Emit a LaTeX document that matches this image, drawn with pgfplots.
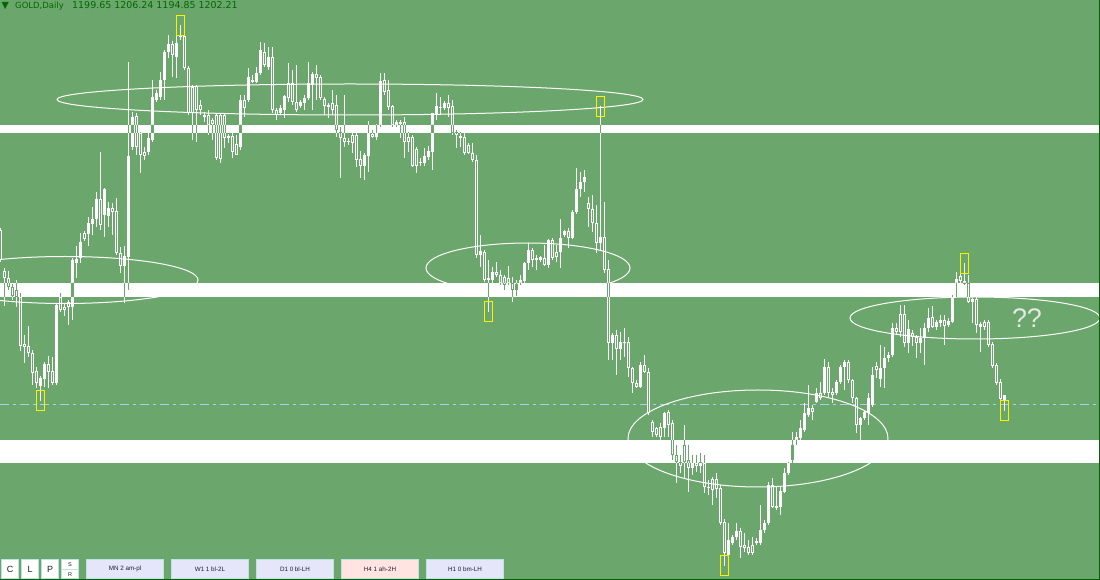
\documentclass[border=0pt]{standalone}
\usepackage{pgfplots}
\pgfplotsset{compat=1.18}
\usepackage{pgfplotstable}
\usepackage{fontspec}
\setmainfont{DejaVu Sans}
\newfontfamily\lib{Liberation Sans}
\definecolor{bg}{RGB}{107,166,108}
\definecolor{txtg}{RGB}{0,105,0}
\definecolor{bid}{RGB}{168,208,232}
\definecolor{lav}{RGB}{230,230,250}
\definecolor{rose}{RGB}{255,228,225}
\definecolor{bord}{RGB}{190,225,228}
\definecolor{dkg}{RGB}{0,100,0}
\definecolor{qq}{RGB}{228,232,228}
\definecolor{btxt}{RGB}{30,30,50}

% pixel rows (0 = top of chart); O H L C
\pgfplotstableread{
x O H L C
0 230 228 262 260
4 271 268 306 278
8 278 271 290 287
12 287 284 300 296
16 290 280 307 297
20 297 293 351 346
24 344 335 363 347
28 346 326 357 353
32 353 350 385 373
36 371 367 388 383
40 386 376 401 378
44 379 362 387 364
48 364 356 388 372
52 371 357 385 383
56 383 303 385 305
60 297 293 312 310
64 307 303 316 310
68 302 300 325 307
72 307 258 320 260
76 263 246 278 259
80 258 233 263 242
84 233 231 241 239
88 234 217 246 223
92 224 207 235 219
96 219 192 227 199
100 199 152 230 225
104 215 188 237 189
108 216 202 227 208
112 208 203 235 212
116 211 198 255 253
120 253 247 273 266
124 266 246 303 256
128 257 62 290 156
132 147 112 150 117
136 116 113 155 147
140 133 132 173 155
144 152 147 160 156
148 152 133 155 138
152 140 80 142 97
156 100 90 102 93
160 97 72 100 80
164 80 50 100 52
168 52 35 58 44
172 44 41 77 55
176 57 35 78 43
180 37 25 40 35
184 36 33 70 68
188 68 66 115 113
192 87 85 140 113
196 86 85 142 110
200 105 100 115 110
204 117 112 122 115
208 115 110 135 125
212 120 118 140 124
216 115 113 160 158
220 115 113 163 159
224 115 113 148 138
228 138 134 143 136
232 136 133 158 152
236 144 135 155 155
240 147 95 150 100
244 100 95 117 108
248 100 68 102 77
252 82 75 83 80
256 82 67 83 73
260 73 42 75 50
264 52 43 67 65
268 67 47 70 57
272 57 47 113 110
276 110 108 120 115
280 113 105 115 108
284 110 95 118 96
288 83 63 102 98
292 83 70 105 102
296 102 65 112 110
300 106 100 108 102
304 103 95 110 98
308 98 62 100 83
312 85 72 110 74
316 74 65 100 78
320 77 75 100 98
324 99 97 115 106
328 107 103 118 105
332 103 90 115 110
336 105 95 137 130
340 132 127 178 138
344 138 95 147 142
348 141 138 145 142
352 135 133 153 143
356 135 133 167 160
360 159 151 178 166
364 166 153 180 155
368 156 121 172 133
372 134 130 138 137
376 137 124 140 133
380 125 73 127 81
384 80 73 95 92
388 90 80 110 107
392 106 105 127 125
396 125 120 127 122
400 124 120 138 122
404 122 117 158 142
408 137 132 152 142
412 137 135 167 166
416 149 147 173 166
420 163 158 166 162
424 163 148 166 156
428 157 146 160 151
432 152 113 170 113
436 115 93 120 106
440 107 97 115 108
444 108 101 110 103
448 103 95 117 108
452 106 100 135 133
456 132 130 148 135
460 136 132 147 138
464 137 133 155 153
468 145 143 154 153
472 153 143 162 160
476 160 155 258 255
480 255 235 267 251
484 252 250 282 280
488 280 260 312 278
492 280 267 283 272
496 272 262 277 275
500 275 270 285 283
504 277 275 290 285
508 278 266 285 283
512 283 277 302 290
516 290 280 296 284
520 283 275 285 280
524 281 262 283 263
528 263 243 270 250
532 250 248 267 260
536 258 255 270 260
540 260 256 262 257
544 258 245 266 265
548 265 239 268 240
552 240 238 260 258
556 252 245 262 257
560 252 219 268 238
564 235 230 237 231
568 231 228 248 238
572 238 210 239 212
576 212 168 214 189
580 189 172 197 182
584 182 170 192 177
588 203 197 227 209
592 209 195 232 223
596 223 205 253 243
600 243 106 250 237
604 237 202 273 270
608 269 260 360 343
612 343 333 360 335
616 335 330 375 349
620 349 332 360 342
624 343 328 357 342
628 342 337 377 368
632 368 367 393 383
636 383 380 388 387
640 387 362 388 365
644 365 355 373 372
648 372 368 415 413
652 422 420 437 432
656 428 427 437 435
660 427 423 440 437
664 428 412 437 413
668 412 410 437 425
672 423 420 460 455
676 455 445 483 462
680 462 455 473 466
684 445 425 478 462
688 460 445 492 468
692 468 455 475 463
696 463 455 472 466
700 466 453 473 462
704 463 455 493 487
708 487 480 495 488
712 479 477 505 490
716 479 473 498 489
720 488 485 525 523
724 522 519 566 553
728 555 523 558 540
732 543 535 545 537
736 537 523 540 531
740 531 528 558 547
744 545 533 552 548
748 547 540 555 553
752 545 537 555 553
756 543 538 545 541
760 543 505 545 530
764 530 520 533 523
768 523 482 525 485
772 485 478 508 507
776 506 487 510 508
780 507 487 515 491
784 492 468 493 473
788 473 462 475 463
792 460 432 463 445
796 440 432 445 437
800 438 420 440 428
804 430 403 432 413
808 415 385 417 408
812 408 405 420 412
816 402 388 403 393
820 393 382 400 398
824 393 359 395 367
828 367 362 397 393
832 392 388 403 395
836 393 380 395 382
840 382 365 384 367
844 367 360 390 362
848 362 360 383 380
852 380 379 403 398
856 398 397 433 425
860 425 417 440 418
864 418 410 420 412
868 413 393 425 398
872 405 367 407 375
876 366 362 378 370
880 379 345 387 368
884 368 347 388 358
888 358 352 362 355
892 355 323 357 328
896 328 323 335 332
900 314 305 337 332
904 314 305 347 343
908 343 320 353 329
912 333 330 346 337
916 337 335 358 343
920 343 328 353 338
924 338 323 365 328
928 328 308 332 318
932 317 306 328 327
936 327 320 330 322
940 323 315 327 320
944 320 315 345 326
948 325 318 327 321
952 322 295 323 297
956 283 272 297 279
960 276 273 283 281
964 284 263 285 281
968 283 275 303 302
972 302 298 323 299
976 299 297 333 325
980 327 322 352 324
984 322 320 330 327
988 322 320 347 345
992 344 342 368 366
996 365 363 385 383
1000 382 379 400 399
1004 400 395 411 395
}\candles

\pgfplotsset{
  mt/.style={width=1100bp,height=580bp,scale only axis,
    xmin=0,xmax=1100,ymin=0,ymax=580,y dir=reverse,
    axis line style={draw=none},ticks=none,clip=true},
  eb/.style 2 args={forget plot,draw=none,mark=none,
    error bars/.cd,y dir=plus,y explicit,error mark=none,
    error bar style={draw=#1,solid,line width=#2,line cap=butt}},
}
\newcommand\candleplots[3]{%
  \addplot[eb={#1}{1bp}] table[x expr=\thisrow{x}+0.5, y=H,
     y error plus expr=\thisrow{L}-\thisrow{H}] {\candles};
  \addplot[eb={#2}{3bp}] table[x expr=\thisrow{x}+0.5,
     y expr={min(\thisrow{O},\thisrow{C})},
     y error plus expr={max(abs(\thisrow{O}-\thisrow{C}),1)}] {\candles};
  \addplot[eb={#3}{1bp}] table[x expr=\thisrow{x}+0.5,
     y expr={\thisrow{O}+1},
     y error plus expr={max(\thisrow{C}-\thisrow{O}-2,0)}] {\candles};
}

\begin{document}
\begin{tikzpicture}
\begin{axis}[mt, axis background/.style={fill=bg}]
  \draw[bid, line width=1bp, dash pattern=on 9bp off 4bp on 3bp off 4bp]
     (axis cs:0,404.5) -- (axis cs:1100,404.5);
  \candleplots{white}{white}{bg}
  % bands
  \fill[white] (axis cs:0,125) rectangle (axis cs:1100,133);
  \fill[white] (axis cs:0,283) rectangle (axis cs:1100,297);
  \fill[white] (axis cs:0,440) rectangle (axis cs:1100,463);
  % ellipses
  \draw[white, line width=1bp] (axis cs:65,280) ellipse [x radius=133bp, y radius=23.5bp];
  \draw[white, line width=1bp] (axis cs:350,99.5) ellipse [x radius=293bp, y radius=15.5bp];
  \draw[white, line width=1bp] (axis cs:528,268) ellipse [x radius=102bp, y radius=25bp];
  \draw[white, line width=1bp] (axis cs:758,438.5) ellipse [x radius=130bp, y radius=48.5bp];
  \draw[white, line width=1bp] (axis cs:975,318) ellipse [x radius=125bp, y radius=21bp];
  % yellow markers
  \draw[yellow, line width=1bp] (axis cs:176.5,15.5) rectangle (axis cs:184.5,35.5);
  \draw[yellow, line width=1bp] (axis cs:36.5,390.5) rectangle (axis cs:44.5,410.5);
  \draw[yellow, line width=1bp] (axis cs:596.5,96.5) rectangle (axis cs:604.5,116.5);
  \draw[yellow, line width=1bp] (axis cs:484.5,301.5) rectangle (axis cs:492.5,321.5);
  \draw[yellow, line width=1bp] (axis cs:720.5,555.5) rectangle (axis cs:728.5,575.5);
  \draw[yellow, line width=1bp] (axis cs:960.5,253.5) rectangle (axis cs:968.5,273.5);
  \draw[yellow, line width=1bp] (axis cs:1000.5,400.5) rectangle (axis cs:1008.5,420.5);
  % texts
  \node[anchor=base west, inner sep=0, text=txtg, font=\fontsize{9.5}{9.5}\selectfont] at (axis cs:1.5,9) {▼};
  \node[anchor=base west, inner sep=0, text=txtg, font=\fontsize{8.5}{8.5}\selectfont] at (axis cs:15,8.5) {GOLD,Daily};
  \node[anchor=base west, inner sep=0, text=txtg, font=\fontsize{9.5}{9.5}\selectfont] at (axis cs:72,8.5) {1199.65 1206.24 1194.85 1202.21};
  \node[text=qq, inner sep=0, font=\lib\fontsize{27}{27}\selectfont] at (axis cs:1027,318) {??};
  % buttons
  \draw[draw=bord, fill=white, line width=1bp] (axis cs:1.5,559.5) rectangle (axis cs:18.5,578.5);
  \draw[draw=bord, fill=white, line width=1bp] (axis cs:21.5,559.5) rectangle (axis cs:38.5,578.5);
  \draw[draw=bord, fill=white, line width=1bp] (axis cs:41.5,559.5) rectangle (axis cs:58.5,578.5);
  \draw[draw=bord, fill=white, line width=1bp] (axis cs:61.5,559.5) rectangle (axis cs:78.5,578.5);
  \draw[draw=bord, line width=1bp] (axis cs:61.5,569.5) -- (axis cs:78.5,569.5);
  \node[text=btxt, inner sep=0, font=\lib\fontsize{9}{9}\selectfont] at (axis cs:10,569) {C};
  \node[text=btxt, inner sep=0, font=\lib\fontsize{9}{9}\selectfont] at (axis cs:30,569) {L};
  \node[text=btxt, inner sep=0, font=\lib\fontsize{9}{9}\selectfont] at (axis cs:50,569) {P};
  \node[text=btxt, inner sep=0, font=\lib\fontsize{5.5}{5.5}\selectfont] at (axis cs:70,564.5) {S};
  \node[text=btxt, inner sep=0, font=\lib\fontsize{5.5}{5.5}\selectfont] at (axis cs:70,574.5) {R};
  \draw[draw=bord, fill=lav, line width=1bp] (axis cs:86.5,559.5) rectangle (axis cs:163.5,578.5);
  \draw[draw=bord, fill=lav, line width=1bp] (axis cs:171.5,559.5) rectangle (axis cs:248.5,578.5);
  \draw[draw=bord, fill=lav, line width=1bp] (axis cs:256.5,559.5) rectangle (axis cs:333.5,578.5);
  \draw[draw=bord, fill=rose, line width=1bp] (axis cs:341.5,559.5) rectangle (axis cs:418.5,578.5);
  \draw[draw=bord, fill=lav, line width=1bp] (axis cs:426.5,559.5) rectangle (axis cs:503.5,578.5);
  \node[text=btxt, inner sep=0, font=\lib\fontsize{6.3}{6.3}\selectfont] at (axis cs:125,569) {MN 2 am-pl};
  \node[text=btxt, inner sep=0, font=\lib\fontsize{6.3}{6.3}\selectfont] at (axis cs:210,569) {W1 1 bl-2L};
  \node[text=btxt, inner sep=0, font=\lib\fontsize{6.3}{6.3}\selectfont] at (axis cs:295,569) {D1 0 bl-LH};
  \node[text=btxt, inner sep=0, font=\lib\fontsize{6.3}{6.3}\selectfont] at (axis cs:380,569) {H4 1 ah-2H};
  \node[text=btxt, inner sep=0, font=\lib\fontsize{6.3}{6.3}\selectfont] at (axis cs:465,569) {H1 0 bm-LH};
  % frame
  \draw[dkg, line width=1bp] (axis cs:0,579.5) -- (axis cs:1100,579.5);
  \draw[dkg, line width=1bp] (axis cs:1099.5,0) -- (axis cs:1099.5,580);
\end{axis}
% candles inverted where they cross the white bands
\begin{scope}
  \clip (0,447bp) rectangle (1100bp,455bp) (0,283bp) rectangle (1100bp,297bp) (0,117bp) rectangle (1100bp,140bp);
  \begin{axis}[mt]
    \candleplots{bg}{bg}{white}
  \end{axis}
\end{scope}
\end{tikzpicture}
\end{document}
